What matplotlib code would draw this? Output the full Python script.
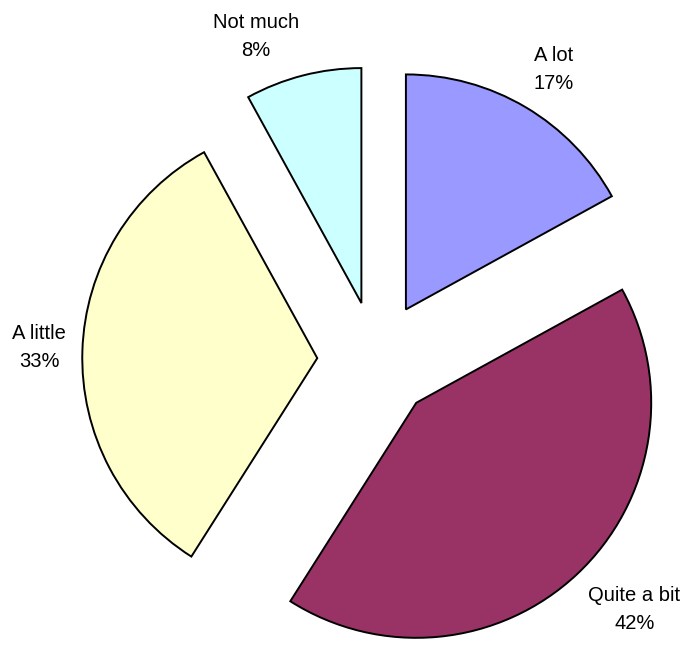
import matplotlib
matplotlib.use("Agg")
import matplotlib.pyplot as plt
import numpy as np

categories = ["A lot", "Quite a bit", "A little", "Not much"]
values = [17, 42, 33, 8]
colors = ["#9999FF", "#993366", "#FFFFCC", "#CCFFFF"]

plt.rcParams['font.family'] = ['Liberation Sans', 'DejaVu Sans']

fig = plt.figure(figsize=(6.89, 6.45), dpi=100)
ax = fig.add_axes([0, 0, 1, 1])

R = 235.0
cx, cy = 376.0, 360.0
W, H = 689.0, 645.0

labels = [f"{c}\n{v}%" for c, v in zip(categories, values)]
wedges, texts = ax.pie(values, colors=colors, startangle=90, counterclock=False,
                       explode=[0.25] * len(values), labels=labels,
                       labeldistance=1.07,
                       wedgeprops=dict(edgecolor='black', linewidth=1.4),
                       textprops=dict(fontsize=14.5, color='black', linespacing=1.6))

ax.set_axis_off()
ax.set_aspect('equal')
ax.set_xlim(-cx / R, (W - cx) / R)
ax.set_ylim(-(H - cy) / R, cy / R)

fig.canvas.draw()
renderer = fig.canvas.get_renderer()
inv = ax.transData.inverted()
for w, t in zip(wedges, texts):
    t.set_ha('center')
    t.set_va('center')
    ang = np.deg2rad((w.theta1 + w.theta2) / 2)
    bb = t.get_window_extent(renderer)
    p0 = inv.transform((bb.x0, bb.y0))
    p1 = inv.transform((bb.x1, bb.y1))
    hw = (p1[0] - p0[0]) / 2
    hh = (p1[1] - p0[1]) / 2
    fx = np.clip(4 * np.cos(ang), -1, 1)
    fy = np.clip(4 * np.sin(ang), -1, 1)
    x, y = t.get_position()
    t.set_position((x + hw * fx, y + hh * fy))

fig.savefig("out.png", dpi=100, facecolor='white')
